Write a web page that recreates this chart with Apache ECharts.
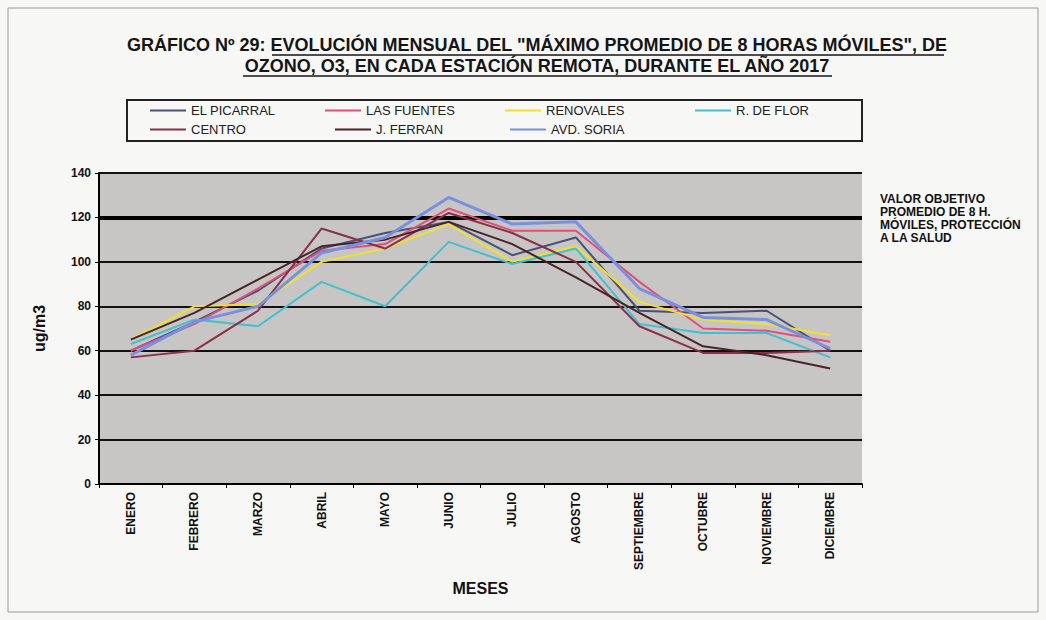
<!DOCTYPE html>
<html><head><meta charset="utf-8">
<script src="https://cdn.jsdelivr.net/npm/echarts@6/dist/echarts.min.js"></script>
<style>html,body{margin:0;padding:0;background:#f7f7f5;}#c{width:1046px;height:620px;}</style>
</head><body><div id="c"></div>
<script>
var months = ['ENERO','FEBRERO','MARZO','ABRIL','MAYO','JUNIO','JULIO','AGOSTO','SEPTIEMBRE','OCTUBRE','NOVIEMBRE','DICIEMBRE'];
var yTicks = [0,20,40,60,80,100,120,140];
var seriesNames = ['EL PICARRAL','LAS FUENTES','RENOVALES','R. DE FLOR','CENTRO','J. FERRAN','AVD. SORIA'];
var elPicarral = [60, 73, 87, 106, 113, 118, 103, 111, 78, 77, 78, 60];
var lasFuentes = [60, 72, 88, 105, 108, 124, 114, 114, 91, 70, 69, 64];
var renovales  = [65, 80, 81, 100, 106, 117, 100, 107, 82, 74, 72, 67];
var rDeFlor    = [63, 74, 71, 91, 80, 109, 99, 106, 72, 68, 68, 57];
var centro     = [57, 60, 78, 115, 106, 122, 113, 100, 71, 59, 59, 60];
var jFerran    = [65, 77, 92, 107, 110, 118, 108, 93, 77, 62, 58, 52];
var avdSoria   = [58, 73, 80, 104, 111, 129, 117, 118, 88, 75, 74, 61];
var objetivo = 120;

var values = [elPicarral, lasFuentes, renovales, rDeFlor, centro, jFerran, avdSoria];
var colors = ['#4a5078','#e0507a','#efe030','#40c0d0','#8a3048','#4a2424','#7890e0'];
var widths = [2,2,2,2,2,2,3];
var legendPos = [[150,104],[325,104],[505,104],[695,104],[150,123],[335,123],[510,123]];
var NARROW = '"Liberation Sans Narrow","Arial Narrow",Arial,sans-serif';

var chart = echarts.init(document.getElementById('c'), null, {renderer:'svg'});
var series = seriesNames.map(function(n,i){
  var s = {name:n, type:'line', data:values[i], symbol:'none', smooth:false,
    lineStyle:{color:colors[i], width:widths[i]}, itemStyle:{color:colors[i]}, z:3};
  if(i===0){
    s.markLine = {silent:true, symbol:'none', label:{show:false},
      lineStyle:{color:'#000', width:4, type:'solid'}, data:[{yAxis:objetivo}], z:2};
  }
  return s;
});
var legends = seriesNames.map(function(n,i){
  return {data:[n], left:legendPos[i][0], top:legendPos[i][1], itemWidth:36, itemHeight:2, icon:'rect',
    itemGap:2, textStyle:{fontFamily:NARROW, fontSize:13, color:'#222'}, selectedMode:false, padding:0};
});
chart.setOption({
  backgroundColor:'#f7f7f5',
  animation:false,
  title:[{
    text:'VALOR OBJETIVO\nPROMEDIO DE 8 H.\nMÓVILES, PROTECCIÓN\nA LA SALUD',
    left:880, top:192, padding:0,
    textStyle:{fontFamily:NARROW, fontSize:12, fontWeight:'bold', color:'#111', lineHeight:13}
  }],
  legend: legends,
  grid:{left:99, right:184, top:173, bottom:136, show:true, backgroundColor:'#c8c6c5', borderWidth:0},
  xAxis:{type:'category', data:months, boundaryGap:true,
    axisLine:{lineStyle:{color:'#000', width:2}},
    axisTick:{show:true, lineStyle:{color:'#000'}, length:4},
    axisLabel:{rotate:90, fontFamily:NARROW, fontWeight:'bold', fontSize:12, color:'#111', margin:8, interval:0},
    name:'MESES', nameLocation:'middle', nameGap:96,
    nameTextStyle:{fontFamily:'Arial,sans-serif', fontWeight:'bold', fontSize:16, color:'#111', padding:[0,0,0,0]}
  },
  yAxis:{type:'value', min:yTicks[0], max:yTicks[yTicks.length-1], interval:20,
    axisLine:{show:true, lineStyle:{color:'#000', width:2}},
    axisTick:{show:true, lineStyle:{color:'#000'}, length:4},
    splitLine:{show:true, lineStyle:{color:'#111', width:2}},
    axisLabel:{fontFamily:'Arial,sans-serif', fontWeight:'bold', fontSize:12, color:'#111', margin:8},
    name:'ug/m3', nameLocation:'middle', nameGap:52, nameRotate:90,
    nameTextStyle:{fontFamily:'Arial,sans-serif', fontWeight:'bold', fontSize:16, color:'#111'}
  },
  graphic:[
    {type:'rect', shape:{x:8, y:8, width:1030, height:604}, style:{fill:'none', stroke:'#999', lineWidth:1}, silent:true, z:-1},
    {type:'rect', shape:{x:127, y:100, width:735, height:41}, style:{fill:'none', stroke:'#222', lineWidth:2}, silent:true},
    {type:'text', x:537, y:36, style:{text:'GRÁFICO Nº 29: EVOLUCIÓN MENSUAL DEL "MÁXIMO PROMEDIO DE 8 HORAS MÓVILES", DE',
      fontFamily:NARROW, fontSize:18, fontWeight:'bold', fill:'#151515', textAlign:'center'}},
    {type:'text', x:537, y:57, style:{text:'OZONO, O3, EN CADA ESTACIÓN REMOTA, DURANTE EL AÑO 2017',
      fontFamily:NARROW, fontSize:18, fontWeight:'bold', fill:'#151515', textAlign:'center'}},
    {type:'line', shape:{x1:272, y1:55, x2:944, y2:55}, style:{stroke:'#151515', lineWidth:1.5}},
    {type:'line', shape:{x1:243, y1:76, x2:832, y2:76}, style:{stroke:'#151515', lineWidth:1.5}}
  ],
  series: series
});
</script></body></html>
